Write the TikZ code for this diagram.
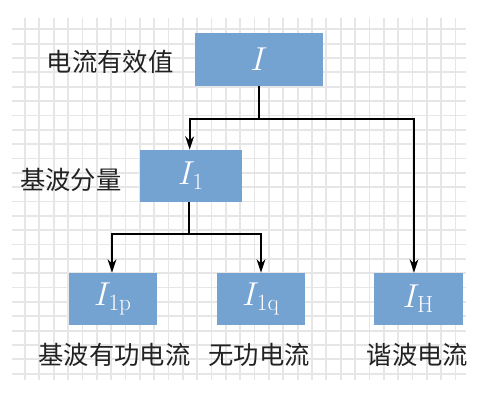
\documentclass[tikz,border=0pt]{standalone}
\usepackage{fontspec}
\newfontfamily\cjk{Noto Sans CJK SC}
\usetikzlibrary{arrows.meta,calc}
\definecolor{boxblue}{RGB}{116,162,209}
\definecolor{gridgray}{RGB}{230,230,230}
\definecolor{txtgray}{RGB}{34,34,34}
\tikzset{
  px/.style={x=0.75pt,y=-0.75pt},
  qbox/.style={draw=none,fill=boxblue,text=white,inner sep=0pt,
    font=\fontsize{25}{28}\selectfont},
  lbl/.style={text=txtgray,inner sep=0pt,font=\cjk\fontsize{19}{22}\selectfont},
  conn/.style={draw=black,line width=1.5pt},
  arr/.style={conn,-{Stealth[length=10pt,width=6.5pt,inset=3pt]}},
}
\begin{document}
\begin{tikzpicture}[px]
\useasboundingbox (0,0) rectangle (500,401);
% grid
\foreach \k in {0,...,30}{
  \draw[gridgray,line width=1.3pt] ({25+14.35*\k},18) -- ({25+14.35*\k},380);
}
\foreach \k in {0,...,24}{
  \draw[gridgray,line width=1.3pt] (12,{29.3+14.35*\k}) -- (466,{29.3+14.35*\k});
}
% boxes
\node[qbox,minimum width=96pt,minimum height=39.75pt] (I) at (259,59.5) {$I$};
\node[qbox,minimum width=76.5pt,minimum height=39pt] (I1) at (191,176) {$I_1$};
\node[qbox,minimum width=66pt,minimum height=39pt] (I1p) at (113,299) {$I_{\mathrm{1p}}$};
\node[qbox,minimum width=66pt,minimum height=39pt] (I1q) at (261,299) {$I_{\mathrm{1q}}$};
\node[qbox,minimum width=66.75pt,minimum height=39pt] (IH) at (418.5,299) {$I_{\mathrm{H}}$};
% labels
\node[lbl] (l0) at (110,62) {电流有效值};
\node[lbl] (l1) at (71,180) {基波分量};
\node[lbl] (l2) at (114.5,355) {基波有功电流};
\node[lbl] (l3) at (259,355) {无功电流};
\node[lbl] (l4) at (417.5,355) {谐波电流};
% connectors
\coordinate (j0) at (259,119);
\coordinate (j1) at (189,234);
\draw[conn] (I.south) -- (j0);
\draw[arr] (j0) -| ([xshift=-1pt]I1.north);
\draw[arr] (j0) -| ([xshift=-3.4pt]IH.north);
\draw[conn] ([xshift=-1.5pt]I1.south) -- (j1);
\draw[arr] (j1) -| ([xshift=-0.75pt]I1p.north);
\draw[arr] (j1) -| (I1q.north);
\end{tikzpicture}
\end{document}
